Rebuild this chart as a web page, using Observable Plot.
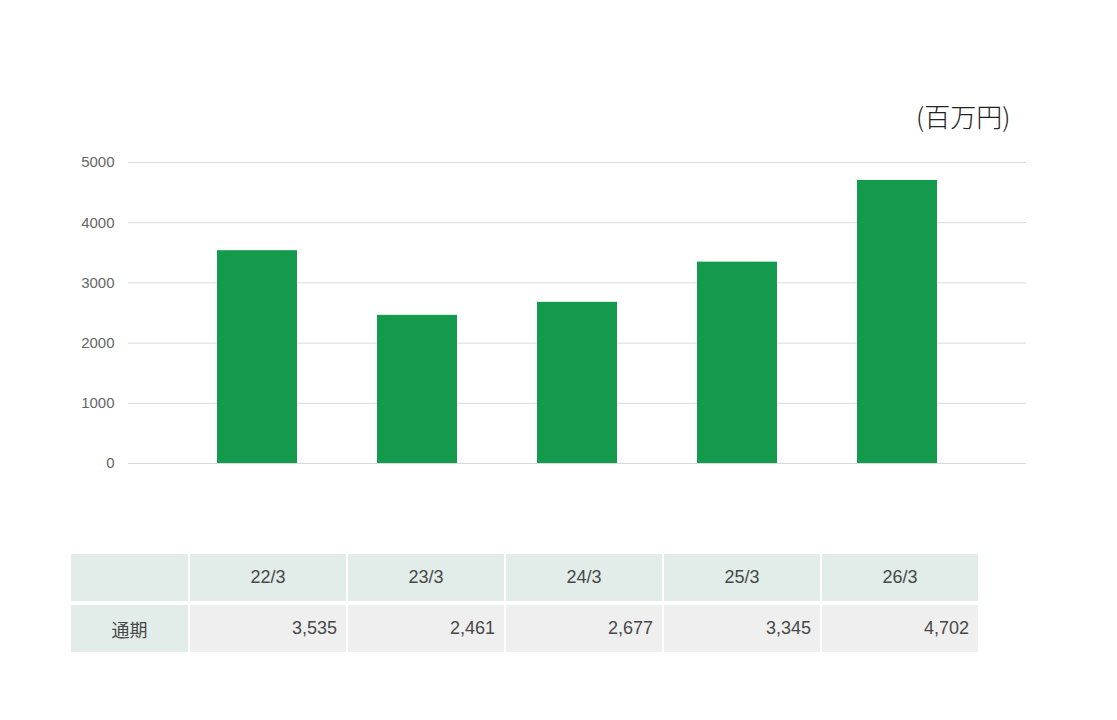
<!DOCTYPE html>
<html>
<head>
<meta charset="utf-8">
<script src="https://cdn.jsdelivr.net/npm/d3@7"></script>
<script src="https://cdn.jsdelivr.net/npm/@observablehq/plot@0.6"></script>
<style>
  html, body { margin: 0; padding: 0; background: #fff; }
  body { width: 1117px; height: 720px; position: relative; overflow: hidden;
         font-family: "Noto Sans CJK JP", "Liberation Sans", Arial, sans-serif; }
  #chart { position: absolute; left: 0; top: 0; }
  #unit { position: absolute; left: 916px; top: 98px; font-size: 26px; line-height: 36px; color: #222;
          font-family: "Noto Sans CJK JP", sans-serif; font-weight: 300; }
  table { position: absolute; left: 69px; top: 550px; border-collapse: separate; border-spacing: 2px 4px;
          font-family: "Liberation Sans", Arial, sans-serif; font-size: 18px; color: #484848; }
  td { height: 47px; padding: 0; box-sizing: border-box; }
  thead td { background: #e2ece8; text-align: center; width: 156px; }
  thead td.first { width: 117px; }
  tbody td { background: #efefef; text-align: right; padding-right: 9px; }
  tbody td.first { background: #e2ece8; text-align: center; padding-right: 0;
                   font-family: "Noto Sans CJK JP", sans-serif; font-size: 18px; }
</style>
</head>
<body>
<div id="chart"></div>
<div id="unit">(百万円)</div>
<table id="tbl"><thead><tr></tr></thead><tbody><tr></tr></tbody></table>
<script>
const categories = ["22/3", "23/3", "24/3", "25/3", "26/3"];
const values = [3535, 2461, 2677, 3345, 4702];
const rowLabel = "通期";
const yTicks = [0, 1000, 2000, 3000, 4000, 5000];

const data = categories.map((c, i) => ({ period: c, value: values[i] }));

const plot = Plot.plot({
  width: 1117,
  height: 500,
  marginTop: 162,
  marginBottom: 37,
  marginLeft: 128,
  marginRight: 91,
  style: { fontFamily: "Liberation Sans, Arial, sans-serif", fontSize: "15px", color: "#666", background: "transparent" },
  x: { type: "band", domain: categories, range: [176, 978.5], paddingInner: 0.5, paddingOuter: 0.25, axis: null },
  y: { domain: [0, 5000], ticks: yTicks, tickSize: 0, tickPadding: 14, label: null, tickFormat: d => String(d) },
  marks: [
    Plot.ruleY(yTicks, { stroke: "#d9d9d9", strokeWidth: 1 }),
    Plot.barY(data, { x: "period", y: "value", fill: "#139a4c" })
  ]
});
document.getElementById("chart").appendChild(plot);

const headRow = document.querySelector("#tbl thead tr");
const bodyRow = document.querySelector("#tbl tbody tr");
let h = document.createElement("td"); h.className = "first"; headRow.appendChild(h);
let b = document.createElement("td"); b.className = "first"; b.textContent = rowLabel; bodyRow.appendChild(b);
categories.forEach((c, i) => {
  const th = document.createElement("td"); th.textContent = c; headRow.appendChild(th);
  const td = document.createElement("td"); td.textContent = d3.format(",")(values[i]); bodyRow.appendChild(td);
});
</script>
</body>
</html>
